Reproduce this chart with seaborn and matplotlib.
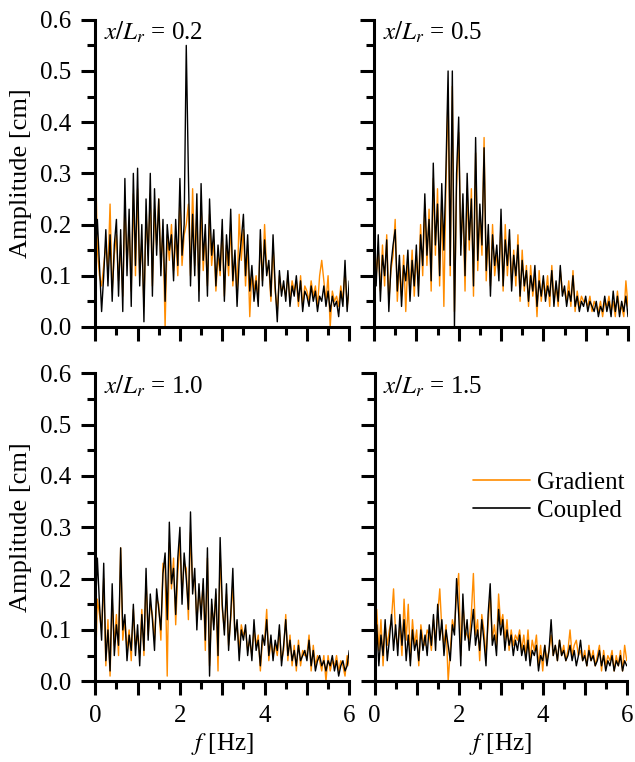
import numpy as np
import pandas as pd
import matplotlib
matplotlib.use("Agg")
import matplotlib.pyplot as plt
from matplotlib.lines import Line2D
import seaborn as sns

# frequency grid of the spectra (0 - 6 Hz)
freq = np.linspace(0, 6, 121)

labels = ["0.2", "0.5", "1.0", "1.5"]

# x/Lr = 0.2
grad_02 = [0.36, 0.15, 0.10, 0.08, 0.12, 0.16, 0.11, 0.24, 0.07, 0.14,
           0.18, 0.09, 0.16, 0.06, 0.24, 0.12, 0.20, 0.07, 0.26, 0.10,
           0.27, 0.10, 0.17, 0.04, 0.22, 0.14, 0.26, 0.08, 0.23, 0.16,
           0.25, 0.12, 0.19, 0.00, 0.18, 0.13, 0.20, 0.11, 0.18, 0.10,
           0.25, 0.12, 0.18, 0.20, 0.24, 0.10, 0.27, 0.12, 0.22, 0.07,
           0.24, 0.11, 0.18, 0.08, 0.22, 0.12, 0.17, 0.07, 0.14, 0.10,
           0.19, 0.06, 0.16, 0.10, 0.20, 0.08, 0.14, 0.06, 0.22, 0.13,
           0.19, 0.08, 0.16, 0.02, 0.11, 0.07, 0.10, 0.05, 0.17, 0.09,
           0.20, 0.11, 0.12, 0.05, 0.16, 0.07, 0.03, 0.10, 0.07, 0.08,
           0.06, 0.10, 0.05, 0.09, 0.07, 0.09, 0.04, 0.10, 0.04, 0.08,
           0.07, 0.05, 0.09, 0.06, 0.08, 0.04, 0.10, 0.13, 0.09, 0.05,
           0.10, 0.00, 0.07, 0.05, 0.06, 0.04, 0.08, 0.05, 0.11, 0.04,
           0.07]
coup_02 = [0.13, 0.21, 0.12, 0.03, 0.10, 0.19, 0.08, 0.18, 0.05, 0.16,
           0.21, 0.06, 0.19, 0.03, 0.29, 0.10, 0.23, 0.04, 0.30, 0.12,
           0.31, 0.08, 0.20, 0.01, 0.25, 0.12, 0.30, 0.06, 0.27, 0.14,
           0.25, 0.10, 0.21, 0.05, 0.20, 0.15, 0.18, 0.09, 0.21, 0.12,
           0.29, 0.14, 0.20, 0.55, 0.30, 0.08, 0.22, 0.10, 0.26, 0.05,
           0.28, 0.13, 0.20, 0.06, 0.25, 0.14, 0.19, 0.08, 0.16, 0.11,
           0.21, 0.05, 0.18, 0.12, 0.23, 0.09, 0.15, 0.04, 0.13, 0.17,
           0.22, 0.10, 0.18, 0.07, 0.12, 0.05, 0.09, 0.04, 0.19, 0.08,
           0.17, 0.10, 0.13, 0.06, 0.18, 0.08, 0.01, 0.11, 0.06, 0.09,
           0.05, 0.11, 0.04, 0.08, 0.06, 0.10, 0.05, 0.09, 0.03, 0.07,
           0.06, 0.04, 0.08, 0.05, 0.07, 0.03, 0.06, 0.05, 0.08, 0.04,
           0.07, 0.03, 0.06, 0.04, 0.05, 0.02, 0.07, 0.04, 0.13, 0.03,
           0.09]

# x/Lr = 0.5
grad_05 = [0.21, 0.10, 0.15, 0.07, 0.16, 0.08, 0.18, 0.05, 0.11, 0.14,
           0.21, 0.05, 0.12, 0.06, 0.14, 0.03, 0.13, 0.07, 0.15, 0.06,
           0.14, 0.08, 0.20, 0.10, 0.24, 0.12, 0.23, 0.07, 0.29, 0.14,
           0.27, 0.08, 0.25, 0.04, 0.28, 0.46, 0.10, 0.47, 0.03, 0.27,
           0.38, 0.16, 0.24, 0.07, 0.27, 0.15, 0.27, 0.06, 0.34, 0.11,
           0.22, 0.14, 0.37, 0.09, 0.18, 0.08, 0.20, 0.10, 0.14, 0.11,
           0.20, 0.07, 0.20, 0.10, 0.17, 0.09, 0.15, 0.08, 0.18, 0.05,
           0.15, 0.07, 0.12, 0.04, 0.12, 0.06, 0.10, 0.02, 0.11, 0.05,
           0.09, 0.06, 0.10, 0.04, 0.12, 0.05, 0.08, 0.04, 0.11, 0.07,
           0.07, 0.05, 0.09, 0.04, 0.11, 0.03, 0.07, 0.04, 0.06, 0.05,
           0.05, 0.04, 0.06, 0.03, 0.05, 0.04, 0.03, 0.05, 0.02, 0.05,
           0.04, 0.06, 0.03, 0.05, 0.02, 0.07, 0.03, 0.04, 0.02, 0.09,
           0.04]
coup_05 = [0.15, 0.08, 0.18, 0.05, 0.14, 0.10, 0.17, 0.03, 0.12, 0.16,
           0.19, 0.07, 0.14, 0.04, 0.12, 0.09, 0.15, 0.05, 0.13, 0.08,
           0.16, 0.06, 0.18, 0.12, 0.26, 0.14, 0.21, 0.09, 0.32, 0.16,
           0.24, 0.10, 0.28, 0.15, 0.31, 0.50, 0.12, 0.50, 0.00, 0.30,
           0.41, 0.14, 0.26, 0.10, 0.30, 0.17, 0.25, 0.08, 0.37, 0.13,
           0.24, 0.16, 0.35, 0.11, 0.20, 0.06, 0.18, 0.12, 0.16, 0.09,
           0.23, 0.08, 0.17, 0.12, 0.19, 0.07, 0.14, 0.10, 0.16, 0.06,
           0.13, 0.08, 0.11, 0.05, 0.10, 0.07, 0.12, 0.04, 0.09, 0.06,
           0.10, 0.05, 0.08, 0.06, 0.11, 0.04, 0.09, 0.05, 0.12, 0.06,
           0.08, 0.04, 0.07, 0.05, 0.10, 0.04, 0.06, 0.03, 0.05, 0.04,
           0.06, 0.03, 0.05, 0.04, 0.03, 0.05, 0.02, 0.04, 0.03, 0.06,
           0.03, 0.05, 0.02, 0.07, 0.03, 0.06, 0.02, 0.05, 0.03, 0.06,
           0.02]

# x/Lr = 1.0
grad_10 = [0.01, 0.16, 0.13, 0.10, 0.20, 0.03, 0.12, 0.01, 0.16, 0.07,
           0.13, 0.05, 0.26, 0.08, 0.12, 0.06, 0.10, 0.04, 0.14, 0.07,
           0.09, 0.05, 0.14, 0.05, 0.20, 0.09, 0.15, 0.13, 0.08, 0.16,
           0.15, 0.08, 0.23, 0.22, 0.01, 0.27, 0.18, 0.24, 0.11, 0.21,
           0.27, 0.17, 0.23, 0.22, 0.12, 0.29, 0.19, 0.20, 0.12, 0.17,
           0.14, 0.19, 0.06, 0.24, 0.03, 0.15, 0.11, 0.17, 0.02, 0.25,
           0.14, 0.10, 0.17, 0.07, 0.12, 0.19, 0.09, 0.11, 0.06, 0.11,
           0.09, 0.10, 0.06, 0.08, 0.05, 0.10, 0.07, 0.09, 0.02, 0.08,
           0.08, 0.14, 0.04, 0.08, 0.05, 0.07, 0.05, 0.10, 0.04, 0.06,
           0.13, 0.04, 0.09, 0.03, 0.07, 0.02, 0.08, 0.03, 0.06, 0.05,
           0.05, 0.09, 0.02, 0.07, 0.03, 0.05, 0.04, 0.02, 0.05, 0.00,
           0.05, 0.02, 0.04, 0.03, 0.05, 0.02, 0.04, 0.03, 0.01, 0.05,
           0.03]
coup_10 = [0.13, 0.24, 0.15, 0.08, 0.23, 0.04, 0.10, 0.02, 0.19, 0.05,
           0.11, 0.07, 0.26, 0.10, 0.13, 0.04, 0.09, 0.06, 0.15, 0.05,
           0.11, 0.03, 0.13, 0.06, 0.22, 0.08, 0.17, 0.12, 0.06, 0.18,
           0.14, 0.10, 0.21, 0.25, 0.12, 0.31, 0.19, 0.22, 0.13, 0.24,
           0.30, 0.15, 0.25, 0.20, 0.14, 0.33, 0.17, 0.22, 0.10, 0.19,
           0.12, 0.20, 0.08, 0.26, 0.01, 0.16, 0.10, 0.18, 0.05, 0.28,
           0.15, 0.09, 0.19, 0.06, 0.13, 0.22, 0.08, 0.12, 0.04, 0.10,
           0.08, 0.11, 0.05, 0.09, 0.04, 0.12, 0.06, 0.08, 0.03, 0.09,
           0.07, 0.12, 0.05, 0.09, 0.04, 0.08, 0.06, 0.11, 0.03, 0.07,
           0.12, 0.05, 0.08, 0.04, 0.06, 0.03, 0.07, 0.04, 0.05, 0.06,
           0.04, 0.08, 0.03, 0.06, 0.02, 0.04, 0.05, 0.03, 0.04, 0.02,
           0.04, 0.03, 0.05, 0.02, 0.04, 0.01, 0.03, 0.04, 0.02, 0.03,
           0.06]

# x/Lr = 1.5
grad_15 = [0.09, 0.14, 0.06, 0.12, 0.03, 0.11, 0.07, 0.10, 0.12, 0.18,
           0.09, 0.07, 0.11, 0.05, 0.16, 0.08, 0.15, 0.04, 0.12, 0.07,
           0.10, 0.03, 0.11, 0.08, 0.07, 0.10, 0.09, 0.06, 0.12, 0.08,
           0.13, 0.18, 0.10, 0.07, 0.11, 0.00, 0.06, 0.12, 0.10, 0.17,
           0.21, 0.05, 0.15, 0.10, 0.09, 0.08, 0.13, 0.21, 0.09, 0.12,
           0.04, 0.13, 0.10, 0.05, 0.11, 0.17, 0.08, 0.11, 0.07, 0.17,
           0.11, 0.13, 0.08, 0.12, 0.06, 0.10, 0.07, 0.09, 0.08, 0.10,
           0.06, 0.09, 0.05, 0.10, 0.04, 0.08, 0.06, 0.09, 0.03, 0.07,
           0.02, 0.07, 0.04, 0.06, 0.09, 0.05, 0.07, 0.04, 0.08, 0.05,
           0.07, 0.04, 0.06, 0.10, 0.05, 0.07, 0.08, 0.05, 0.06, 0.04,
           0.06, 0.03, 0.07, 0.04, 0.06, 0.03, 0.05, 0.07, 0.02, 0.06,
           0.03, 0.05, 0.04, 0.06, 0.02, 0.05, 0.03, 0.06, 0.02, 0.07,
           0.04]
coup_15 = [0.05, 0.11, 0.03, 0.09, 0.05, 0.12, 0.04, 0.08, 0.13, 0.06,
           0.11, 0.05, 0.13, 0.07, 0.12, 0.04, 0.09, 0.03, 0.10, 0.06,
           0.08, 0.04, 0.10, 0.06, 0.09, 0.05, 0.11, 0.07, 0.13, 0.06,
           0.15, 0.08, 0.12, 0.05, 0.10, 0.07, 0.04, 0.11, 0.09, 0.20,
           0.13, 0.03, 0.17, 0.08, 0.12, 0.06, 0.10, 0.14, 0.07, 0.10,
           0.06, 0.12, 0.08, 0.03, 0.13, 0.19, 0.07, 0.09, 0.05, 0.14,
           0.09, 0.12, 0.06, 0.10, 0.07, 0.09, 0.05, 0.08, 0.06, 0.09,
           0.05, 0.07, 0.04, 0.08, 0.03, 0.06, 0.05, 0.07, 0.02, 0.05,
           0.04, 0.07, 0.03, 0.06, 0.12, 0.05, 0.07, 0.04, 0.08, 0.05,
           0.06, 0.04, 0.05, 0.07, 0.04, 0.06, 0.03, 0.05, 0.08, 0.04,
           0.05, 0.03, 0.06, 0.04, 0.05, 0.03, 0.04, 0.06, 0.03, 0.05,
           0.02, 0.04, 0.03, 0.05, 0.02, 0.04, 0.03, 0.05, 0.02, 0.04,
           0.03]

gradient = [grad_02, grad_05, grad_10, grad_15]
coupled = [coup_02, coup_05, coup_10, coup_15]

colors = {"Gradient": "#ff8c00", "Coupled": "black"}

sns.set_style("ticks")
plt.rcParams["font.family"] = ["Liberation Serif", "DejaVu Serif"]
plt.rcParams["mathtext.fontset"] = "stix"
plt.rcParams["font.size"] = 18
plt.rcParams["text.color"] = "black"
plt.rcParams["axes.labelcolor"] = "black"
plt.rcParams["axes.edgecolor"] = "black"
plt.rcParams["xtick.color"] = "black"
plt.rcParams["ytick.color"] = "black"

fig = plt.figure(figsize=(6.35, 7.62), dpi=100)
# panel positions [left, bottom, width, height] in figure fractions
pos = [[0.150, 0.571, 0.400, 0.403],
       [0.589, 0.571, 0.400, 0.403],
       [0.150, 0.106, 0.400, 0.404],
       [0.590, 0.106, 0.397, 0.404]]

for i in range(4):
    ax = fig.add_axes(pos[i])
    df = pd.DataFrame({
        "freq": np.concatenate([freq, freq]),
        "amp": gradient[i] + coupled[i],
        "model": ["Gradient"] * len(freq) + ["Coupled"] * len(freq),
    })
    sns.lineplot(data=df, x="freq", y="amp", hue="model",
                 hue_order=["Gradient", "Coupled"], palette=colors,
                 estimator=None, lw=1.0, legend=False, ax=ax)
    ax.set_xlim(0, 6)
    ax.set_ylim(0, 0.6)
    ax.set_xticks([0, 1, 2, 3, 4, 5, 6])
    ax.set_xticks(np.arange(0.5, 6, 1.0), minor=True)
    ax.set_yticks(np.arange(0, 0.61, 0.1))
    ax.set_yticks(np.arange(0.05, 0.6, 0.1), minor=True)
    ax.tick_params(which="major", length=10, width=2.2, direction="out", pad=7, labelsize=18)
    ax.tick_params(which="minor", length=5.5, width=2.2, direction="out")
    sns.despine(ax=ax)
    for s in ["left", "bottom"]:
        ax.spines[s].set_linewidth(2.2)

    if i % 2 == 0:
        ax.set_yticklabels([f"{v:.1f}" for v in np.arange(0, 0.61, 0.1)])
        ax.set_ylabel("Amplitude [cm]", fontsize=19, labelpad=6)
    else:
        ax.set_yticklabels([])
        ax.set_ylabel("")
    if i >= 2:
        ax.set_xticklabels(["0", "", "2", "", "4", "", "6"])
        ax.set_xlabel(r"$f$ [Hz]", fontsize=18, labelpad=3)
    else:
        ax.set_xticklabels([])
        ax.set_xlabel("")

    ax.text(0.035, 1.0, r"$x/L_r$ = " + labels[i], transform=ax.transAxes,
            ha="left", va="top", fontsize=18)

    if i == 3:
        handles = [Line2D([], [], color=colors["Gradient"], lw=1.2),
                   Line2D([], [], color=colors["Coupled"], lw=1.2)]
        ax.legend(handles, ["Gradient", "Coupled"], frameon=False,
                  loc="center left", bbox_to_anchor=(0.39, 0.60),
                  borderpad=0, borderaxespad=0, handlelength=2.3,
                  handletextpad=0.25, labelspacing=0.2, fontsize=18)

fig.savefig("out.png", dpi=100)
